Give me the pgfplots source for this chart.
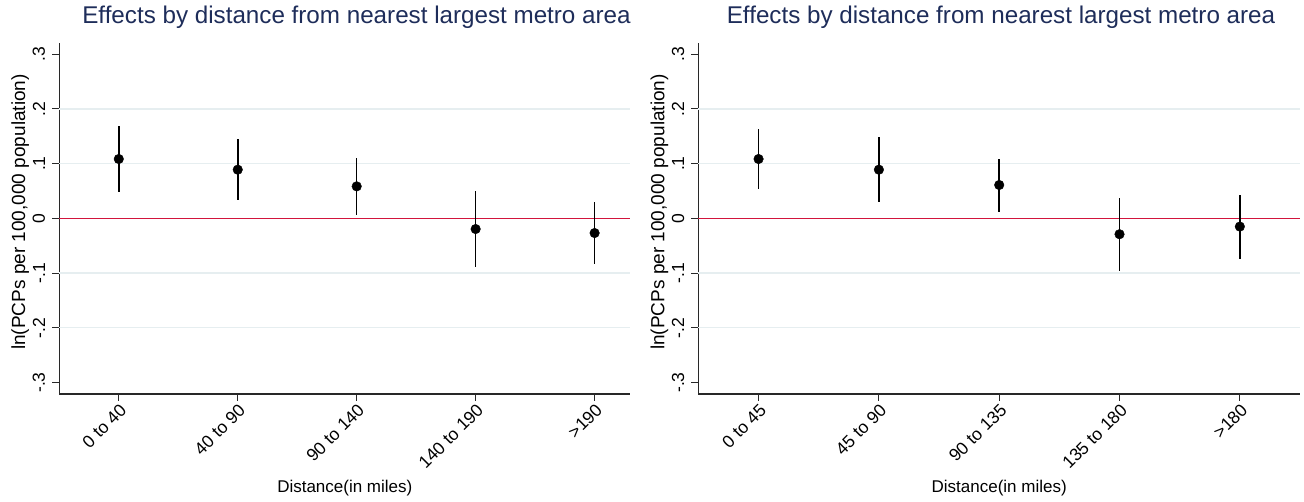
\documentclass[border=0pt]{standalone}
\usepackage{pgfplots}
\usepackage{pgfplotstable}
\pgfplotsset{compat=1.18}
\usepackage{fontspec}
\setmainfont{Liberation Sans}
\definecolor{titlec}{RGB}{30,45,90}
\definecolor{zeroc}{RGB}{210,20,60}
\definecolor{gridc}{RGB}{230,238,240}
\definecolor{axc}{RGB}{40,40,40}

\pgfplotstableread{
x y lo hi
1 0.1085 0.049 0.168
2 0.089 0.0335 0.145
3 0.0585 0.006 0.110
4 -0.0195 -0.089 0.0506
5 -0.0268 -0.083 0.030
}\lefttab

\pgfplotstableread{
x y lo hi
1 0.1085 0.054 0.163
2 0.089 0.030 0.149
3 0.061 0.012 0.109
4 -0.029 -0.097 0.037
5 -0.015 -0.074 0.043
}\righttab

\pgfplotsset{
  stata/.style={
    scale only axis,
    height=350.7pt,
    axis x line*=bottom, axis y line*=left,
    axis line style={axc, line width=1.1pt},
    tick align=outside, major tick length=7pt,
    tick style={axc, line width=1.1pt},
    xmin=0.5,
    ymin=-0.321, ymax=0.32,
    ytick={-0.3,-0.2,-0.1,0,0.1,0.2,0.3},
    yticklabels={-.3,-.2,-.1,0,.1,.2,.3},
    yticklabel style={rotate=90, anchor=south, font=\fontsize{17.5}{17.5}\selectfont, inner sep=3pt},
    yticklabel shift=4pt,
    xtick={1,2,3,4,5},
    xticklabel style={rotate=45, anchor=north east, font=\fontsize{17.5}{17.5}\selectfont, inner sep=1pt},
    extra y ticks={-0.2,-0.1,0.1,0.2},
    extra y tick labels={},
    extra y tick style={grid=major, major tick length=0pt},
    grid style={gridc, line width=1.2pt},
    xlabel={Distance(in miles)},
    ylabel={ln(PCPs per 100,000 population)},
    every axis x label/.style={at={(axis description cs:0.5,0)}, yshift=-94pt, anchor=center, font=\fontsize{17}{17}\selectfont},
    every axis y label/.style={at={(axis description cs:0,0.519)}, xshift=-39pt, anchor=center, rotate=90, font=\fontsize{19}{19}\selectfont},
    title style={font=\fontsize{24.2}{25}\selectfont, color=titlec, anchor=center, yshift=20.3pt},
    clip=false,
  },
  ptstyle/.style={only marks, mark=*, mark size=4.8pt, black,
    error bars/.cd, y dir=both, y explicit, error mark=none,
    error bar style={line width=1.6pt, black}},
}

\begin{document}
\begin{tikzpicture}
\useasboundingbox[fill=white] (0,0) rectangle (1304pt,502pt);
\begin{axis}[stata, at={(59.3pt,108pt)}, anchor=south west,
  width=571pt, xmax=5.3,
  xticklabels={0 to 40,40 to 90,90 to 140,140 to 190,>190},
  title={Effects by distance from nearest largest metro area},
  title style={at={(axis description cs:0.5205,1)}}]
\addplot[zeroc, line width=1.6pt, no marks] coordinates {(0.5,0) (5.3,0)};
\addplot[ptstyle] table[x=x, y=y, y error plus expr=\thisrow{hi}-\thisrow{y}, y error minus expr=\thisrow{y}-\thisrow{lo}] {\lefttab};
\end{axis}
\begin{axis}[stata, at={(698.4pt,108pt)}, anchor=south west,
  width=601.6pt, xmax=5.5,
  xticklabels={0 to 45,45 to 90,90 to 135,135 to 180,>180},
  title={Effects by distance from nearest largest metro area},
  title style={at={(axis description cs:0.503,1)}}]
\addplot[zeroc, line width=1.6pt, no marks] coordinates {(0.5,0) (5.5,0)};
\addplot[ptstyle] table[x=x, y=y, y error plus expr=\thisrow{hi}-\thisrow{y}, y error minus expr=\thisrow{y}-\thisrow{lo}] {\righttab};
\end{axis}
\end{tikzpicture}
\end{document}
